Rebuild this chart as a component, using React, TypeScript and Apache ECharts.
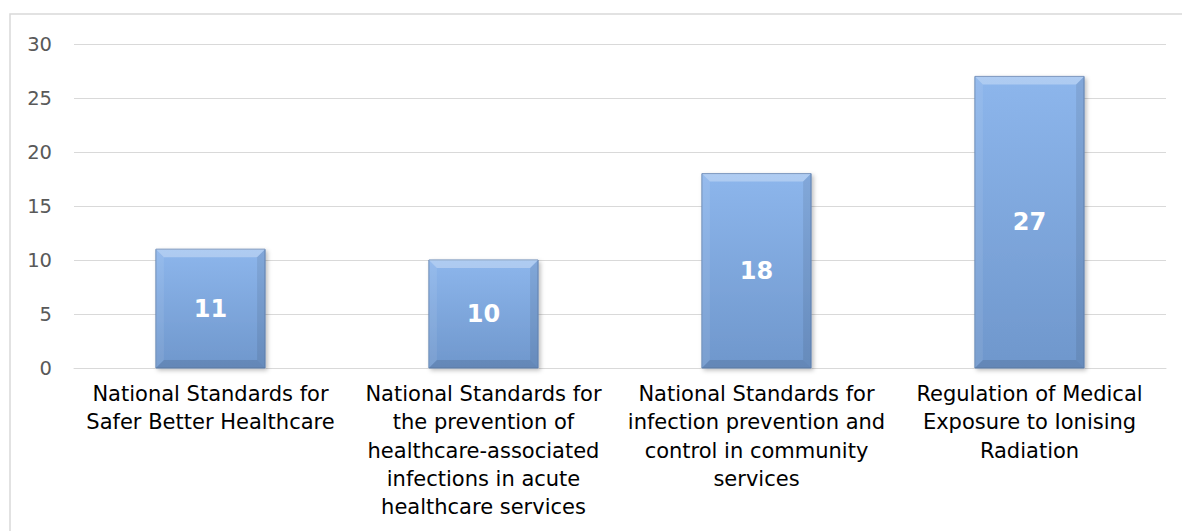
import React, { useEffect, useRef } from "react";
import * as echarts from "echarts";

const categories = [
  "National Standards for\nSafer Better Healthcare",
  "National Standards for\nthe prevention of\nhealthcare-associated\ninfections in acute\nhealthcare services",
  "National Standards for\ninfection prevention and\ncontrol in community\nservices",
  "Regulation of Medical\nExposure to Ionising\nRadiation",
];
const values = [11, 10, 18, 27];
const yTicks = { min: 0, max: 30, interval: 5 };

export default function App() {
  const ref = useRef<HTMLDivElement>(null);
  useEffect(() => {
    const chart = echarts.init(ref.current!, null, { renderer: "svg" });
    const font = "DejaVu Sans, Verdana, sans-serif";
    chart.setOption({
      animation: false,
      graphic: [
        {
          type: "rect",
          shape: { x: 10, y: 14, width: 1300, height: 700 },
          style: { fill: "none", stroke: "#d9d9d9", lineWidth: 1.5 },
          silent: true,
          z: -1,
        },
      ],
      grid: { left: 74, right: 16, top: 44, bottom: 163, containLabel: false },
      xAxis: {
        type: "category",
        data: categories,
        axisLine: { lineStyle: { color: "#d9d9d9", width: 1 } },
        axisTick: { show: false },
        axisLabel: {
          interval: 0,
          color: "#000",
          fontFamily: font,
          fontSize: 21,
          lineHeight: 28.3,
          margin: 12,
        },
      },
      yAxis: {
        type: "value",
        min: yTicks.min,
        max: yTicks.max,
        interval: yTicks.interval,
        axisLine: { show: false },
        axisTick: { show: false },
        splitLine: { lineStyle: { color: "#d9d9d9", width: 1 } },
        axisLabel: { color: "#595959", fontFamily: font, fontSize: 19.5, margin: 22 },
      },
      series: [
        {
          type: "custom",
          data: values.map((v, i) => [i, v]),
          encode: { x: 0, y: 1 },
          renderItem: (params: any, api: any) => {
            const idx = api.value(0);
            const val = api.value(1);
            const top = api.coord([idx, val]);
            const bot = api.coord([idx, 0]);
            const w = api.size([1, 0])[0] * 0.4;
            const x0 = top[0] - w / 2;
            const x1 = top[0] + w / 2;
            const y0 = top[1];
            const y1 = bot[1];
            const b = 8;
            return {
              type: "group",
              children: [
                {
                  type: "rect",
                  shape: { x: x0, y: y0, width: w, height: y1 - y0 },
                  style: {
                    fill: new echarts.graphic.LinearGradient(0, 0, 0, 1, [
                      { offset: 0, color: "#8db6ec" },
                      { offset: 1, color: "#6f97cc" },
                    ]),
                    stroke: "#6787b4",
                    lineWidth: 1,
                    shadowColor: "rgba(0,0,0,0.25)",
                    shadowBlur: 4,
                    shadowOffsetX: 2,
                    shadowOffsetY: 2,
                  },
                },
                {
                  type: "polygon",
                  shape: { points: [[x0, y0], [x1, y0], [x1 - b, y0 + b], [x0 + b, y0 + b]] },
                  style: { fill: "rgba(255,255,255,0.3)" },
                },
                {
                  type: "polygon",
                  shape: { points: [[x0, y0], [x0 + b, y0 + b], [x0 + b, y1 - b], [x0, y1]] },
                  style: { fill: "rgba(255,255,255,0.08)" },
                },
                {
                  type: "polygon",
                  shape: { points: [[x1, y0], [x1, y1], [x1 - b, y1 - b], [x1 - b, y0 + b]] },
                  style: { fill: "rgba(0,0,0,0.08)" },
                },
                {
                  type: "polygon",
                  shape: { points: [[x0, y1], [x0 + b, y1 - b], [x1 - b, y1 - b], [x1, y1]] },
                  style: { fill: "rgba(0,0,0,0.1)" },
                },
                {
                  type: "text",
                  x: top[0],
                  y: (y0 + y1) / 2,
                  style: {
                    text: String(val),
                    fill: "#fff",
                    fontFamily: font,
                    fontWeight: "bold",
                    fontSize: 24,
                    align: "center",
                    verticalAlign: "middle",
                  },
                },
              ],
            };
          },
        },
      ],
    });
    return () => chart.dispose();
  }, []);
  return (
    <div
      ref={ref}
      style={{ position: "absolute", left: 0, top: 0, width: 1182, height: 531, background: "#fff" }}
    />
  );
}
